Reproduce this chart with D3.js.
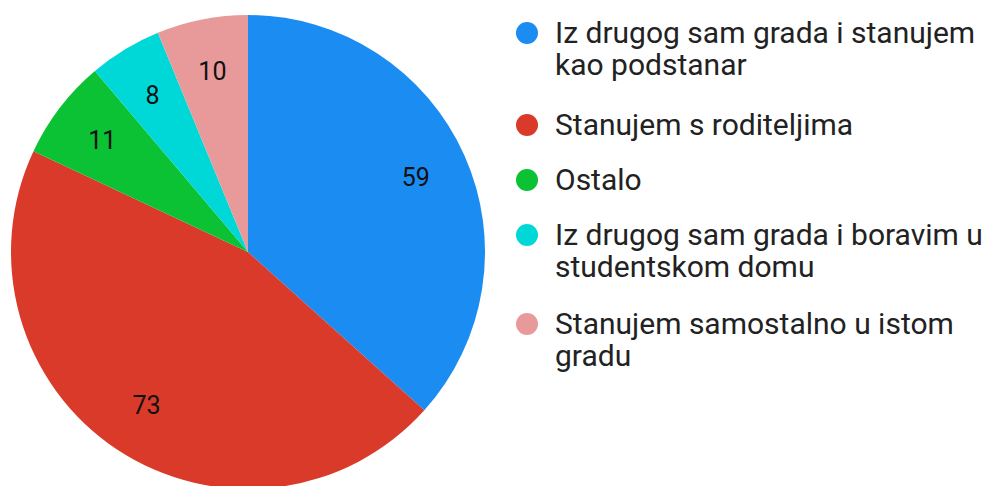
<!DOCTYPE html>
<html>
<head>
<meta charset="utf-8">
<script src="https://cdn.jsdelivr.net/npm/d3@7"></script>
<style>
  body { margin: 0; background: #fff; }
  text { font-family: Roboto, "Noto Sans", sans-serif; }
</style>
</head>
<body>
<div id="chart"></div>
<script>
// data
const categories = [
    "Iz drugog sam grada i stanujem kao podstanar",
    "Stanujem s roditeljima",
    "Ostalo",
    "Iz drugog sam grada i boravim u studentskom domu",
    "Stanujem samostalno u istom gradu",
]
const values = [59, 73, 11, 8, 10]
const legendLines = [
    ["Iz drugog sam grada i stanujem", "kao podstanar"],
    ["Stanujem s roditeljima"],
    ["Ostalo"],
    ["Iz drugog sam grada i boravim u", "studentskom domu"],
    ["Stanujem samostalno u istom", "gradu"],
]
const colors = ["#1a8cf2", "#d93a29", "#0ac233", "#00d8d8", "#e89a9a"]

// dimensions
const dims = {
    width: 992,
    height: 486,
    cx: 248,
    cy: 252,
    radius: 237,
}

const svg = d3.select("#chart")
    .append("svg")
    .attr("width", dims.width)
    .attr("height", dims.height)

const data = categories.map((c, i) => ({ name: c, value: values[i], i }))

const pie = d3.pie()
    .value(d => d.value)
    .sort(null)

const arc = d3.arc()
    .innerRadius(0)
    .outerRadius(dims.radius)

const labelArc = d3.arc()
    .innerRadius(dims.radius * 0.775)
    .outerRadius(dims.radius * 0.775)

const color = d3.scaleOrdinal()
    .domain(categories)
    .range(colors)

const pieBounds = svg.append("g")
    .attr("transform", `translate(${dims.cx}, ${dims.cy})`)

const arcs = pie(data)

pieBounds.selectAll("path")
    .data(arcs)
    .join("path")
    .attr("d", arc)
    .attr("fill", d => color(d.data.name))

pieBounds.selectAll("text")
    .data(arcs)
    .join("text")
    .attr("transform", d => `translate(${labelArc.centroid(d)})`)
    .attr("text-anchor", "middle")
    .attr("dy", "0.34em")
    .attr("font-size", 25)
    .attr("fill", "#111")
    .text(d => d.data.value)

// legend
const legendY = [33, 125, 180, 235, 324]
const legend = svg.append("g")
    .attr("transform", "translate(527, 0)")

const items = legend.selectAll("g")
    .data(data)
    .join("g")
    .attr("transform", d => `translate(0, ${legendY[d.i]})`)

items.append("circle")
    .attr("r", 11)
    .attr("fill", d => color(d.name))

items.append("text")
    .attr("x", 28)
    .attr("y", 10)
    .attr("font-size", 30)
    .attr("fill", "#222")
    .selectAll("tspan")
    .data(d => legendLines[d.i])
    .join("tspan")
    .attr("x", 28)
    .attr("dy", (d, j) => j === 0 ? 0 : 32)
    .text(d => d)
</script>
</body>
</html>
